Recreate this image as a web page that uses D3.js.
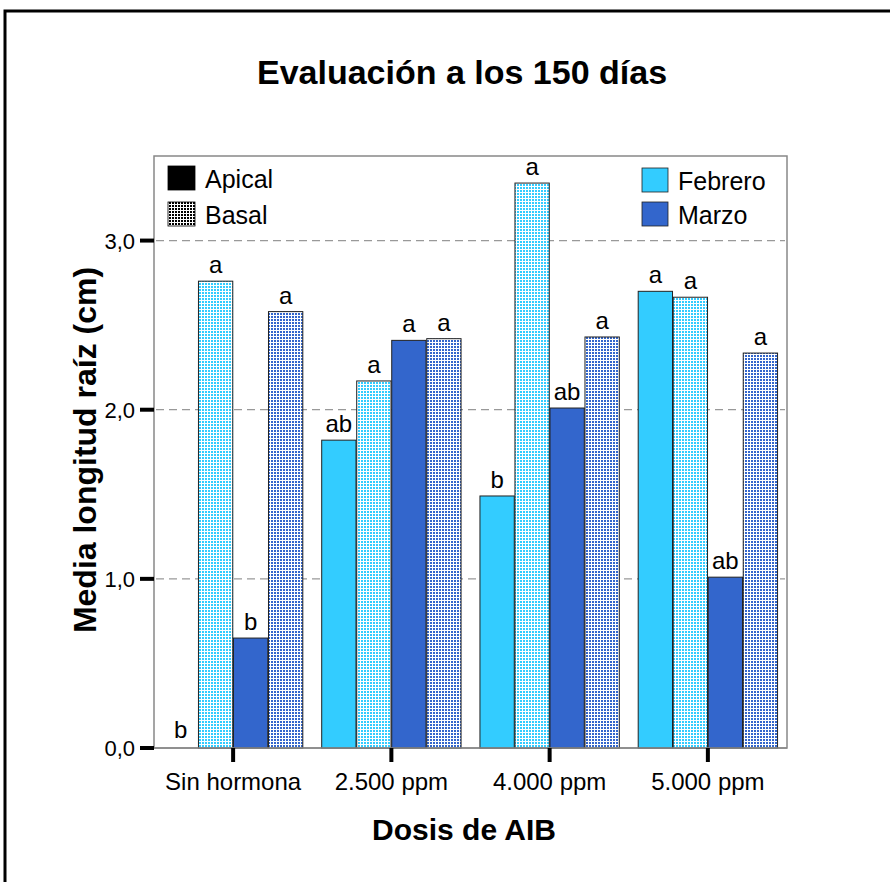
<!DOCTYPE html>
<html><head><meta charset="utf-8">
<script src="https://cdn.jsdelivr.net/npm/d3@7"></script>
<style>body{margin:0;background:#fff}svg{display:block;font-family:"Liberation Sans",Arial,sans-serif}</style>
</head><body><svg id="c" width="890" height="882"></svg>
<script>
const categories = ["Sin hormona", "2.500 ppm", "4.000 ppm", "5.000 ppm"];
const seriesNames = ["Apical Febrero", "Basal Febrero", "Apical Marzo", "Basal Marzo"];
const apicalFeb = [0, 1.82, 1.49, 2.70];
const basalFeb = [2.76, 2.17, 3.34, 2.665];
const apicalMar = [0.65, 2.41, 2.01, 1.01];
const basalMar = [2.58, 2.42, 2.43, 2.335];
const lblApicalFeb = ["b", "ab", "b", "a"];
const lblBasalFeb = ["a", "a", "a", "a"];
const lblApicalMar = ["b", "a", "ab", "ab"];
const lblBasalMar = ["a", "a", "a", "a"];
const yTicks = [0, 1, 2, 3];
const yTickLabels = ["0,0", "1,0", "2,0", "3,0"];

const svg = d3.select("#c");
const m = {l: 154, r: 787, t: 156, b: 748};
const FEB = "#33CCFF", MAR = "#3366CC";

const defs = svg.append("defs");
function grid(id, col) {
  const p = defs.append("pattern").attr("id", id).attr("width", 3).attr("height", 3)
    .attr("patternUnits", "userSpaceOnUse");
  p.append("rect").attr("width", 3).attr("height", 3).attr("fill", "#fff");
  p.append("rect").attr("x", 1).attr("y", 1).attr("width", 2).attr("height", 2).attr("fill", col);
}
grid("pFeb", FEB); grid("pMar", MAR); grid("pBlk", "#000");

svg.append("rect").attr("x", 5).attr("y", 11).attr("width", 950).attr("height", 950)
  .attr("fill", "none").attr("stroke", "#000").attr("stroke-width", 3);

svg.append("text").attr("x", 462).attr("y", 84).attr("text-anchor", "middle")
  .attr("font-size", 34).attr("font-weight", "bold").text("Evaluación a los 150 días");

const x0 = d3.scaleBand().domain(categories).range([m.l, m.r]).paddingInner(0).paddingOuter(0);
const x1 = d3.scaleBand().domain(seriesNames).range([0, x0.bandwidth()]).paddingOuter(0.27).paddingInner(0.02);
const y = d3.scaleLinear().domain([0, 3.5]).range([m.b, m.t]);

svg.append("rect").attr("x", m.l).attr("y", m.t).attr("width", m.r - m.l).attr("height", m.b - m.t)
  .attr("fill", "#fff").attr("stroke", "#888").attr("stroke-width", 1.5);

svg.append("g").selectAll("line").data(yTicks.filter(d => d > 0)).join("line")
  .attr("x1", m.l + 2).attr("x2", m.r - 2).attr("y1", d => y(d)).attr("y2", d => y(d))
  .attr("stroke", "#999").attr("stroke-width", 1.2).attr("stroke-dasharray", "8,5");

const series = [
  {name: seriesNames[0], vals: apicalFeb, lbl: lblApicalFeb, fill: FEB},
  {name: seriesNames[1], vals: basalFeb, lbl: lblBasalFeb, fill: "url(#pFeb)"},
  {name: seriesNames[2], vals: apicalMar, lbl: lblApicalMar, fill: MAR},
  {name: seriesNames[3], vals: basalMar, lbl: lblBasalMar, fill: "url(#pMar)"}
];
const flat = [];
series.forEach(s => categories.forEach((c, i) => flat.push({c, s: s.name, v: s.vals[i], l: s.lbl[i], fill: s.fill})));

const bars = svg.append("g");
bars.selectAll("rect").data(flat.filter(d => d.v > 0)).join("rect")
  .attr("x", d => x0(d.c) + x1(d.s)).attr("width", x1.bandwidth())
  .attr("y", d => y(d.v)).attr("height", d => y(0) - y(d.v))
  .attr("fill", d => d.fill).attr("stroke", "#222").attr("stroke-width", 1);
bars.selectAll("text").data(flat).join("text")
  .attr("x", d => x0(d.c) + x1(d.s) + x1.bandwidth() / 2)
  .attr("y", d => y(d.v) - (d.v > 0 ? 8 : 10))
  .attr("text-anchor", "middle").attr("font-size", 24).text(d => d.l);

svg.append("line").attr("x1", m.l).attr("x2", m.r).attr("y1", m.b).attr("y2", m.b)
  .attr("stroke", "#888").attr("stroke-width", 1.5);

const yg = svg.append("g");
yg.selectAll("line").data(yTicks).join("line")
  .attr("x1", m.l - 14).attr("x2", m.l).attr("y1", d => y(d)).attr("y2", d => y(d))
  .attr("stroke", "#000").attr("stroke-width", 4);
yg.selectAll("text").data(yTicks).join("text")
  .attr("x", m.l - 19).attr("y", d => y(d) + 8).attr("text-anchor", "end")
  .attr("font-size", 22).text((d, i) => yTickLabels[i]);

const xg = svg.append("g");
xg.selectAll("line").data(categories).join("line")
  .attr("x1", d => x0(d) + x0.bandwidth() / 2).attr("x2", d => x0(d) + x0.bandwidth() / 2)
  .attr("y1", m.b).attr("y2", m.b + 14).attr("stroke", "#000").attr("stroke-width", 4);
xg.selectAll("text").data(categories).join("text")
  .attr("x", d => x0(d) + x0.bandwidth() / 2).attr("y", 790).attr("text-anchor", "middle")
  .attr("font-size", 24).text(d => d)
  .each(function(d) {
    const w = this.getComputedTextLength();
    const cx = x0(d) + x0.bandwidth() / 2;
    if (cx - w / 2 < m.l) d3.select(this).attr("x", m.l + 1 + w / 2);
  });

svg.append("text").attr("x", 464).attr("y", 840).attr("text-anchor", "middle")
  .attr("font-size", 30).attr("font-weight", "bold").text("Dosis de AIB");
svg.append("text").attr("transform", "translate(96,450) rotate(-90)").attr("text-anchor", "middle")
  .attr("font-size", 32).attr("font-weight", "bold").text("Media longitud raíz (cm)");

const legL = [{t: "Apical", f: "#000", y: 166}, {t: "Basal", f: "url(#pBlk)", y: 202}];
const legR = [{t: "Febrero", f: FEB, y: 168}, {t: "Marzo", f: MAR, y: 202}];
const lg = svg.append("g");
legL.forEach(d => {
  lg.append("rect").attr("x", 168).attr("y", d.y).attr("width", 27).attr("height", 24).attr("fill", d.f)
    .attr("stroke", "#000").attr("stroke-width", 0.8);
  lg.append("text").attr("x", 205).attr("y", d.y + 22).attr("font-size", 25).text(d.t);
});
legR.forEach(d => {
  lg.append("rect").attr("x", 642).attr("y", d.y).attr("width", 26).attr("height", 24).attr("fill", d.f)
    .attr("stroke", "#222").attr("stroke-width", 0.8);
  lg.append("text").attr("x", 678).attr("y", d.y + 22).attr("font-size", 25).text(d.t);
});
</script></body></html>
